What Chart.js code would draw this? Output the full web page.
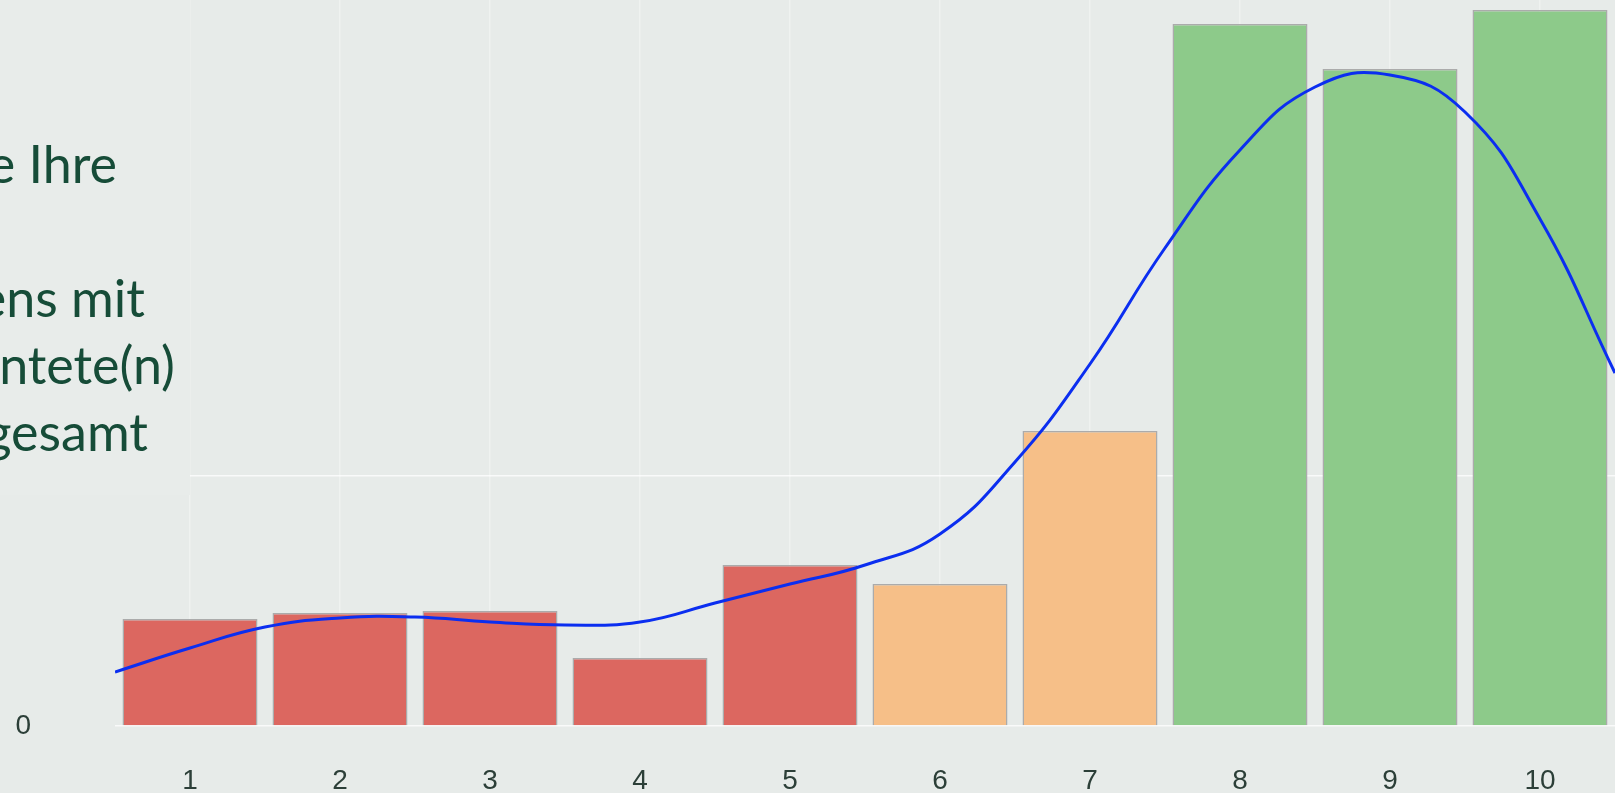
<!DOCTYPE html>
<html>
<head>
<meta charset="utf-8">
<script src="https://cdn.jsdelivr.net/npm/chart.js@4"></script>
<style>
  html, body { margin: 0; padding: 0; background: #E7EBE9; }
  #wrap { position: relative; width: 1615px; height: 793px; overflow: hidden; background: #E7EBE9; }
  #wrap canvas { position: absolute; left: 0; top: 0; }
  .box { position: absolute; left: 0; top: 0; width: 190px; height: 495px; background: #E8ECEA; overflow: hidden; }
  .box div { position: absolute; white-space: nowrap; font-family: Lato, "Open Sans", sans-serif; font-size: 52px; line-height: 67px; color: #164C38; }
</style>
</head>
<body>
<div id="wrap">
  <canvas id="chart" width="1615" height="793"></canvas>
  <div class="box" id="textBox"></div>
</div>
<script>
// ── Data ──────────────────────────────────────────────────
const CATEGORIES = ['1', '2', '3', '4', '5', '6', '7', '8', '9', '10'];
const BAR_VALUES = [21.4, 22.6, 23.0, 13.6, 32.2, 28.4, 59.0, 140.4, 131.4, 143.2];
const BAR_GROUPS = ['low', 'low', 'low', 'low', 'low', 'mid', 'mid', 'high', 'high', 'high'];

// smooth curve at half-category steps
const CURVE_X = [0.5, 1, 1.5, 2, 2.5, 3, 3.5, 4, 4.5, 5, 5.5, 6, 6.5, 7, 7.5, 8, 8.5, 9, 9.5, 10, 10.5];
const CURVE_Y = [10.8, 15.6, 19.8, 21.6, 21.8, 20.8, 20.2, 20.8, 24.6, 28.4, 32.2, 38.4, 52.8, 72.4, 95.6, 115.2, 127.8, 130.2, 122.8, 101.4, 70.6];

const Y_TICKS = [0, 50];
const Y_MAX = 145.2;

const TEXT_LINES = ['e Ihre', '', 'ens mit', 'ntete(n)', 'gesamt'];

const GROUP_COLORS = {
  low:  '#DC6760',
  mid:  '#F6BF88',
  high: '#8DCA8A',
};

// ── Text box (cut-off slide text on the left) ─────────────
function renderTextBox() {
  const box = document.getElementById('textBox');
  const rightEnds = [117, 0, 145, 175, 148];
  TEXT_LINES.forEach((t, i) => {
    if (!t) return;
    const el = document.createElement('div');
    el.textContent = t;
    el.style.top = (130 + i * 67) + 'px';
    el.style.right = (190 - rightEnds[i]) + 'px';
    box.appendChild(el);
  });
}

// ── Chart ─────────────────────────────────────────────────
function renderChart() {
  const tickFont = { family: '"Liberation Sans", Arial, sans-serif', size: 28 };

  new Chart(document.getElementById('chart'), {
    type: 'bar',
    data: {
      labels: CATEGORIES,
      datasets: [
        {
          type: 'line',
          xAxisID: 'x2',
          data: CURVE_X.map((x, i) => ({ x, y: CURVE_Y[i] })),
          borderColor: '#0B2EF0',
          borderWidth: 3,
          pointRadius: 0,
          tension: 0.45,
          fill: false,
          order: 0,
        },
        {
          type: 'bar',
          data: BAR_VALUES,
          backgroundColor: BAR_GROUPS.map(g => GROUP_COLORS[g]),
          borderColor: '#ABABAB',
          borderWidth: 1.5,
          categoryPercentage: 0.9,
          barPercentage: 1.0,
          grouped: false,
          order: 1,
        },
      ],
    },
    options: {
      responsive: false,
      animation: false,
      layout: { padding: 0 },
      plugins: { legend: { display: false }, tooltip: { enabled: false } },
      scales: {
        x: {
          type: 'category',
          position: 'bottom',
          offset: true,
          border: { display: false },
          grid: { offset: false, drawTicks: false, color: 'rgba(255,255,255,0.35)', lineWidth: 1.5 },
          ticks: { font: tickFont, color: '#2C3F38', padding: 38 },
          afterFit: s => { s.height = 67; },
        },
        x2: {
          type: 'linear',
          position: 'bottom',
          display: false,
          offset: false,
          min: 0.5,
          max: 10.5,
        },
        y: {
          type: 'linear',
          position: 'left',
          min: 0,
          max: Y_MAX,
          border: { display: false },
          afterBuildTicks: s => { s.ticks = Y_TICKS.map(v => ({ value: v })); },
          grid: { drawTicks: false, color: 'rgba(255,255,255,0.75)', lineWidth: 1.5 },
          ticks: {
            font: tickFont, color: '#2C3F38', padding: 84,
            callback: v => (v === 0 ? '0' : ''),
          },
          afterFit: s => { s.width = 115; s.paddingTop = 0; s.paddingBottom = 0; },
        },
      },
    },
  });
}

document.addEventListener('DOMContentLoaded', () => {
  renderTextBox();
  renderChart();
});
</script>
</body>
</html>
